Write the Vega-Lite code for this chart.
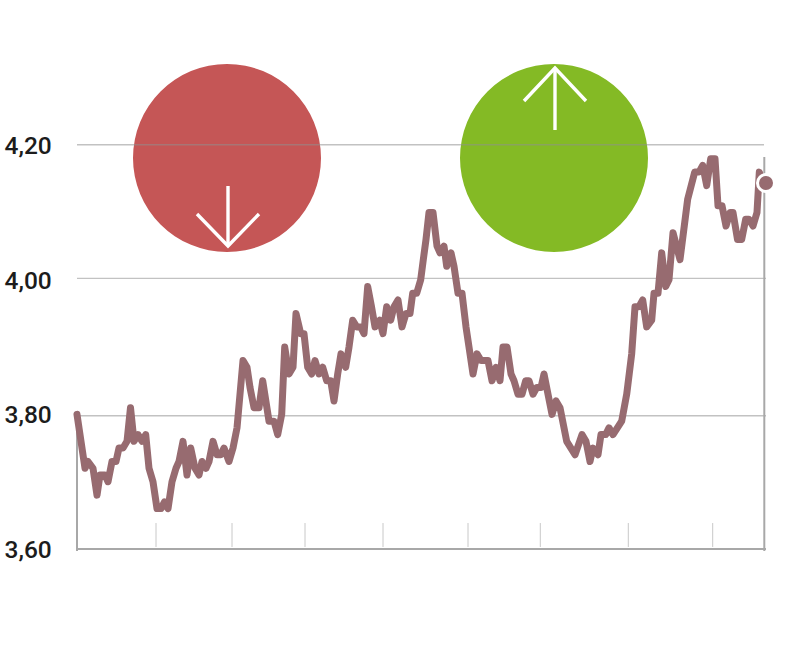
{
"$schema":"https://vega.github.io/schema/vega-lite/v6.json",
"width":731,"height":658,
"autosize":{"type":"none"},
"padding":{"left":77,"top":0,"right":0,"bottom":0},
"background":"white",
"view":{"stroke":null},
"datasets":{
"series":[[0,3.80],[8,3.72],[11,3.73],[16,3.72],[20,3.68],[23,3.71],[28,3.71],[31,3.70],[35,3.73],[39,3.73],[42,3.75],[46,3.75],[50,3.76],[53.5,3.81],[57,3.76],[61,3.77],[65,3.76],[68.7,3.77],[72,3.72],[76,3.70],[80,3.66],[84,3.66],[87.5,3.67],[91,3.66],[95,3.70],[99,3.72],[102,3.73],[106,3.76],[110,3.71],[113.7,3.75],[118,3.72],[122,3.71],[125,3.73],[129,3.72],[132,3.73],[136,3.76],[140,3.74],[143.7,3.74],[147,3.75],[152,3.73],[156,3.75],[160,3.78],[163,3.83],[166,3.88],[170,3.87],[173,3.84],[177,3.81],[182,3.81],[185.7,3.85],[192,3.79],[197,3.79],[200.7,3.77],[204.7,3.80],[207.7,3.90],[212,3.86],[216,3.87],[219,3.95],[223.7,3.92],[227,3.92],[230.7,3.87],[234.7,3.86],[238,3.88],[242,3.86],[245.7,3.87],[249.7,3.85],[253.7,3.85],[257,3.82],[260.7,3.86],[264,3.89],[268.7,3.87],[272,3.90],[275.7,3.94],[279.7,3.93],[283.7,3.93],[287,3.92],[290.7,3.99],[294.5,3.96],[298,3.93],[302.7,3.94],[306,3.92],[309.7,3.96],[313.7,3.94],[317,3.96],[321,3.97],[325,3.93],[329,3.95],[333,3.95],[335.7,3.98],[339.7,3.98],[343.7,4.00],[346.3,4.03],[349,4.06],[352,4.10],[356,4.10],[360,4.05],[363,4.04],[367,4.05],[369.7,4.02],[374,4.04],[377,4.02],[381,3.98],[385,3.98],[389,3.93],[393,3.89],[396,3.86],[400,3.89],[404,3.88],[411,3.88],[415,3.85],[419,3.87],[423,3.85],[426,3.90],[430,3.90],[434,3.86],[437,3.85],[441,3.83],[445,3.83],[448.7,3.85],[452,3.85],[456,3.83],[459.7,3.84],[464,3.84],[467,3.86],[475,3.80],[479,3.82],[483,3.81],[489.7,3.76],[498,3.74],[505,3.77],[509,3.76],[513,3.73],[516,3.75],[521,3.74],[524,3.77],[528.7,3.77],[532,3.78],[536,3.77],[544.7,3.79],[549.7,3.83],[554.7,3.89],[558,3.96],[562,3.96],[565.7,3.97],[569.7,3.93],[574.7,3.94],[577,3.98],[581,3.98],[584.7,4.04],[588.7,3.99],[592,4.00],[596,4.07],[603,4.03],[610.7,4.12],[617.7,4.16],[622,4.16],[625.7,4.17],[629.7,4.14],[633.7,4.18],[638,4.18],[641,4.11],[645,4.11],[649,4.08],[653,4.10],[656,4.10],[660.5,4.06],[664.7,4.06],[668.7,4.09],[672,4.09],[676,4.08],[680,4.10],[682.3,4.16],[686,4.1438]]
},
"data":{"name":"series"},
"transform":[{"calculate":"datum[0]","as":"t"},{"calculate":"datum[1]","as":"v"}],
"encoding":{
"x":{"field":"t","type":"quantitative","scale":{"domain":[0,731],"range":[0,731],"nice":false,"zero":false},"axis":null},
"y":{"field":"v","type":"quantitative","title":null,"scale":{"domain":[3.43804,4.41575],"nice":false,"zero":false},
"axis":{"values":[3.6,3.8,4.0,4.2],"domain":false,"ticks":false,"grid":false,"title":null,"labelExpr":"replace(format(datum.value,'.2f'),'.',',')","labelAlign":"left","labelBaseline":"middle","labelPadding":73,"labelOffset":1.5,"labelFont":"Roboto","labelFontWeight":500,"labelFontSize":24.5,"labelColor":"#1c1c1c"}}
},
"layer":[
{"data":{"values":[{"t":150,"v":4.181,"dir":"down"},{"t":477,"v":4.181,"dir":"up"}]},"transform":[],
 "mark":{"type":"point","filled":true,"opacity":1,"size":35344,"shape":"circle"},
 "encoding":{"color":{"field":"dir","type":"nominal","scale":{"domain":["down","up"],"range":["#c55656","#84ba25"]},"legend":null}}},
{"data":{"values":[{"t":0,"t2":687,"v":4.2007},{"t":0,"t2":689,"v":4.0022},{"t":0,"t2":689,"v":3.798}]},"transform":[],
 "mark":{"type":"rule","stroke":"#8f8f8f","strokeOpacity":0.55,"strokeWidth":1.3},
 "encoding":{"x2":{"field":"t2"}}},
{"data":{"values":[{"t":79,"v":3.6386,"v2":3.603},{"t":155,"v":3.6386,"v2":3.603},{"t":228,"v":3.6386,"v2":3.603},{"t":306,"v":3.6386,"v2":3.603},{"t":391,"v":3.6386,"v2":3.603},{"t":463.3,"v":3.6386,"v2":3.603},{"t":551.3,"v":3.6386,"v2":3.603},{"t":635.7,"v":3.6386,"v2":3.603}]},"transform":[],
 "mark":{"type":"rule","stroke":"#c8c8c8","strokeWidth":1},
 "encoding":{"y2":{"field":"v2"}}},
{"data":{"values":[{"t":0,"v":3.8035,"v2":3.597},{"t":687.3,"v":4.1826,"v2":3.597}]},"transform":[],
 "mark":{"type":"rule","stroke":"#a8a8a8","strokeWidth":2},
 "encoding":{"y2":{"field":"v2"}}},
{"data":{"values":[{"t":0,"t2":689,"v":3.6}]},"transform":[],
 "mark":{"type":"rule","stroke":"#a8a8a8","strokeWidth":2},
 "encoding":{"x2":{"field":"t2"}}},
{"data":{"values":[
 {"id":"d1","o":1,"t":151,"v":4.1394},{"id":"d1","o":2,"t":151,"v":4.0502},
 {"id":"d2","o":1,"t":120,"v":4.0978},{"id":"d2","o":2,"t":151,"v":4.0502},{"id":"d2","o":3,"t":182,"v":4.0978},
 {"id":"u1","o":1,"t":478,"v":4.2226},{"id":"u1","o":2,"t":478,"v":4.3147},
 {"id":"u2","o":1,"t":447,"v":4.2657},{"id":"u2","o":2,"t":478,"v":4.3147},{"id":"u2","o":3,"t":509,"v":4.2657}]},"transform":[],
 "mark":{"type":"line","stroke":"#ffffff","strokeWidth":3.4,"strokeJoin":"miter"},
 "encoding":{"detail":{"field":"id"},"order":{"field":"o","type":"quantitative"}}},
{"mark":{"type":"line","stroke":"#976b70","strokeWidth":7,"strokeJoin":"round","strokeCap":"round"},"encoding":{}},
{"data":{"values":[{"t":689,"v":4.1438}]},"transform":[],
 "mark":{"type":"point","filled":true,"opacity":1,"size":289,"shape":"circle","fill":"#976b70","stroke":"#ffffff","strokeWidth":3,"strokeOpacity":1},"encoding":{}}
]
}
